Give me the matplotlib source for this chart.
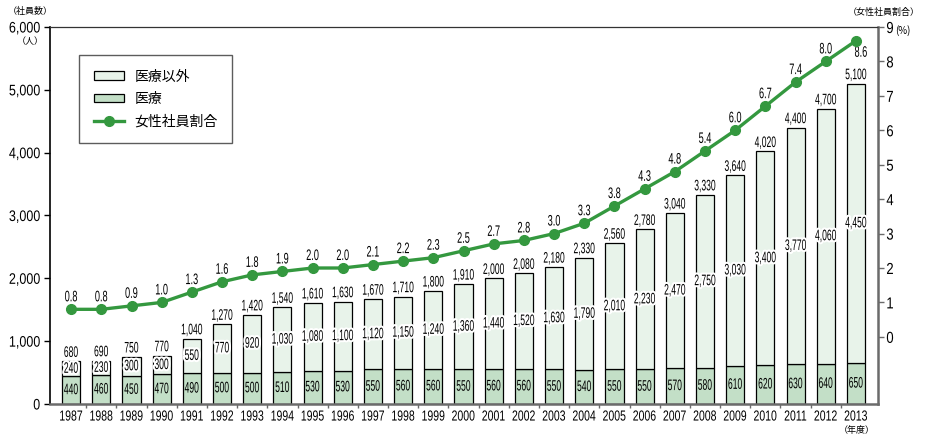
import matplotlib.pyplot as plt
import matplotlib.patheffects as pe
from matplotlib.transforms import Affine2D
from matplotlib.lines import Line2D
from matplotlib.patches import Patch
import numpy as np

plt.rcParams['font.family'] = ['Liberation Sans', 'Noto Sans CJK JP', 'DejaVu Sans']

years = list(range(1987, 2014))
medical = [440, 460, 450, 470, 490, 500, 500, 510, 530, 530, 550, 560, 560, 550,
           560, 560, 550, 540, 550, 550, 570, 580, 610, 620, 630, 640, 650]
non_medical = [240, 230, 300, 300, 550, 770, 920, 1030, 1080, 1100, 1120, 1150, 1240, 1360,
               1440, 1520, 1630, 1790, 2010, 2230, 2470, 2750, 3030, 3400, 3770, 4060, 4450]
female_ratio = [0.8, 0.8, 0.9, 1.0, 1.3, 1.6, 1.8, 1.9, 2.0, 2.0, 2.1, 2.2, 2.3, 2.5,
                2.7, 2.8, 3.0, 3.3, 3.8, 4.3, 4.8, 5.4, 6.0, 6.7, 7.4, 8.0, 8.6]
legend_labels = ['医療以外', '医療', '女性社員割合']

c_light = '#e8f3ea'
c_med = '#c3dfc7'
c_line = '#34983f'
grey = '#6b6b6b'


class Squeeze(pe.AbstractPathEffect):
    """draws text narrower (the original uses a condensed face)"""

    def __init__(self, sx=0.7, anchor='center', halo=None):
        super().__init__()
        self.sx, self.anchor, self.halo = sx, anchor, halo

    def draw_path(self, renderer, gc, tpath, affine, rgbFace=None):
        v = affine.transform(tpath.vertices)
        if len(v) == 0:
            return
        x0, x1 = v[:, 0].min(), v[:, 0].max()
        cx = {'center': (x0 + x1) / 2, 'left': x0, 'right': x1}[self.anchor]
        tr = affine + Affine2D().translate(-cx, 0).scale(self.sx, 1).translate(cx, 0)
        if self.halo:
            g = renderer.new_gc()
            g.copy_properties(gc)
            g.set_linewidth(self.halo[0])
            g.set_foreground(self.halo[1])
            renderer.draw_path(g, tpath, tr)
            g.restore()
        renderer.draw_path(gc, tpath, tr, rgbFace)


fig = plt.figure(figsize=(9.3, 4.38), dpi=100)
ax = fig.add_axes([50 / 930, 1 - 404 / 438, 828 / 930, 377 / 438])
x = np.arange(len(years))
totals = [m + n for m, n in zip(medical, non_medical)]

ax.bar(x, medical, width=0.6, color=c_med, edgecolor='black', lw=0.9, zorder=2)
ax.bar(x, non_medical, bottom=medical, width=0.6, color=c_light, edgecolor='black', lw=0.9, zorder=2)

for i in x:
    ax.text(i, medical[i] / 2, f'{medical[i]:,}', ha='center', va='center', fontsize=11, zorder=4,
            path_effects=[Squeeze(0.56)])
    ax.text(i, medical[i] + non_medical[i] / 2, f'{non_medical[i]:,}', ha='center', va='center',
            fontsize=11, zorder=4, path_effects=[Squeeze(0.56, halo=(3, 'white'))])
    ax.annotate(f'{totals[i]:,}', (i, totals[i]), xytext=(0, 1), textcoords='offset points',
                ha='center', va='bottom', fontsize=11, zorder=4, path_effects=[Squeeze(0.56)])

ax.set_xlim(-0.7, 26.73)
ax.set_ylim(0, 6000)
ax.set_yticks(range(0, 6001, 1000))
ax.set_yticklabels([f'{v:,}' for v in range(0, 6001, 1000)], fontsize=11)
ax.set_xticks(x)
ax.set_xticklabels([str(y) for y in years], fontsize=10.5)
ax.set_xticks(x[:-1] + 0.5, minor=True)
ax.tick_params(axis='x', which='major', length=0, pad=4)
ax.tick_params(axis='x', which='minor', length=3, width=1, color=grey, direction='out')
ax.tick_params(axis='y', length=4, width=1, direction='out', pad=3)
for s in ['bottom', 'right']:
    ax.spines[s].set_color(grey)
    ax.spines[s].set_linewidth(1.8)
ax.spines['top'].set_color('#333333')
ax.spines['top'].set_linewidth(0.9)
ax.spines['left'].set_linewidth(1.2)
for t in ax.xaxis.get_major_ticks():
    t.label1.set_path_effects([Squeeze(0.72)])
for t in ax.yaxis.get_major_ticks():
    t.label1.set_path_effects([Squeeze(0.82, 'right')])

ax2 = ax.twinx()
ax2.set_ylim(-1.95, 9)
ax2.set_yticks(range(0, 10))
ax2.set_yticklabels([str(v) for v in range(0, 10)], fontsize=11.5)
ax2.tick_params(axis='y', length=4, width=1, color=grey, direction='out', pad=2)
for s in ax2.spines.values():
    s.set_visible(False)
for t in ax2.yaxis.get_major_ticks():
    t.label2.set_path_effects([Squeeze(0.82, 'left')])
ax2.plot(x, female_ratio, color=c_line, lw=2.4, marker='o', ms=7, zorder=5)
for i in x:
    off = (5, -12) if i == len(x) - 1 else (0, 12)  # last label sits below-right
    ax2.annotate(f'{female_ratio[i]:.1f}', (i, female_ratio[i]), xytext=off, textcoords='offset pixels',
                 ha='center', va='center', fontsize=11, path_effects=[Squeeze(0.6)])

# unit captions
fig.text(30 / 930, 1 - 11 / 438, '（社員数）', fontsize=6.5, ha='center', va='center')
fig.text(30 / 930, 1 - 42 / 438, '（人）', fontsize=6.5, ha='center', va='center')
fig.text(884 / 930, 1 - 12 / 438, '（女性社員割合）', fontsize=6.5, ha='center', va='center')
fig.text(895 / 930, 1 - 31 / 438, '(%)', fontsize=7, ha='left', va='center', family='Noto Sans CJK JP')
fig.text(857 / 930, 1 - 431 / 438, '（年度）', fontsize=6.5, ha='center', va='center')

handles = [Patch(facecolor=c_light, edgecolor='black', lw=0.9),
           Patch(facecolor=c_med, edgecolor='black', lw=0.9),
           Line2D([], [], color=c_line, lw=2.4, marker='o', ms=7)]
leg = ax.legend(handles, legend_labels, loc='upper left', bbox_to_anchor=(29 / 828, 1 - 28 / 377),
                fontsize=10, frameon=True, fancybox=False, edgecolor='#333333', borderpad=1.05,
                labelspacing=0.6, handlelength=2.2, handleheight=0.6, handletextpad=0.75,
                borderaxespad=0)
leg.get_frame().set_linewidth(1.0)
for t in leg.get_texts():
    t.set_family(['Noto Sans CJK JP', 'DejaVu Sans'])

fig.savefig('out.png', dpi=100)
